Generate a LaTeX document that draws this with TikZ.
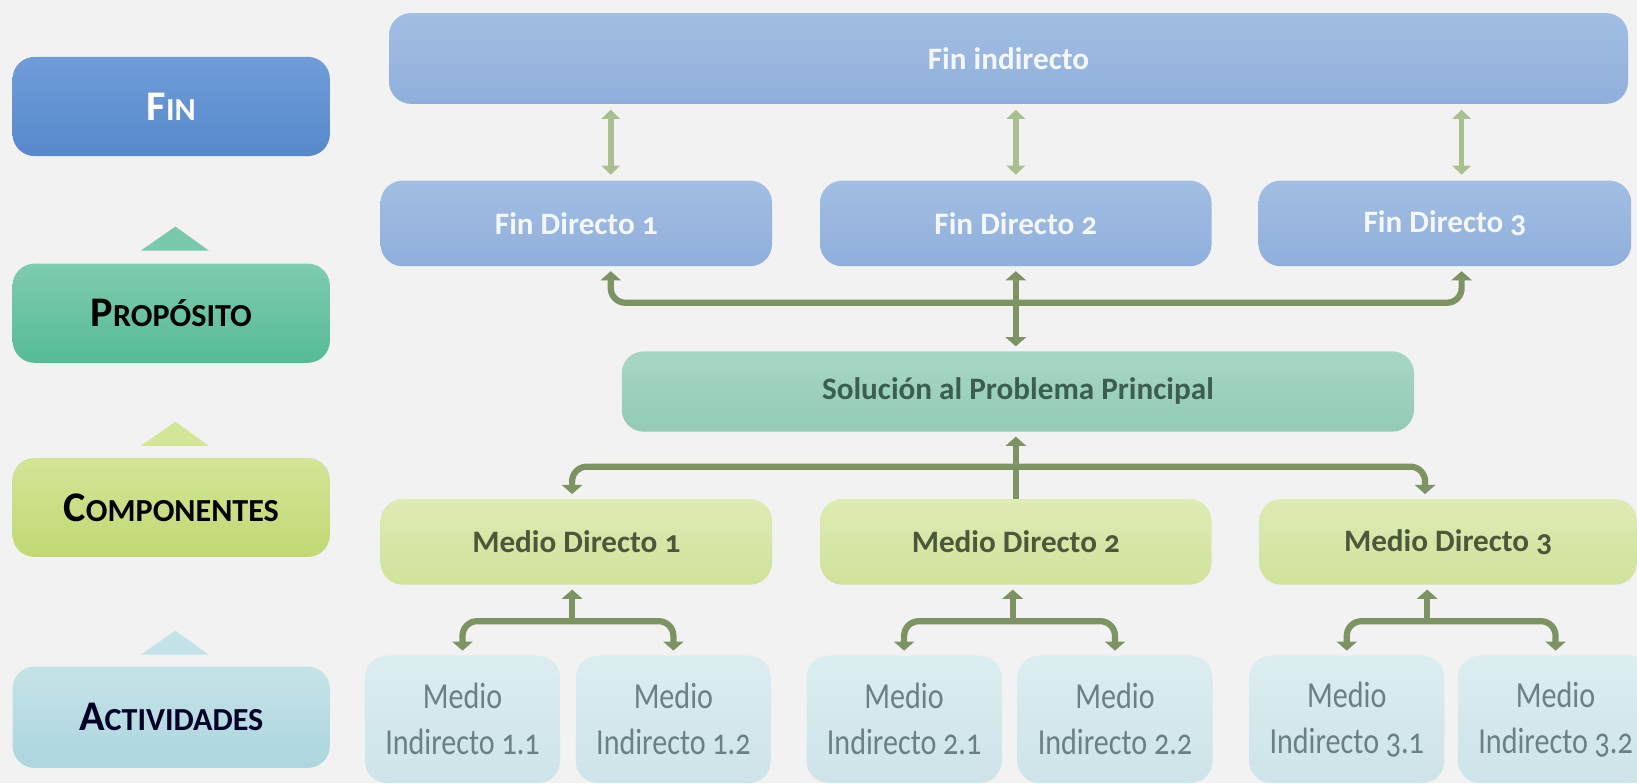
\documentclass[tikz,border=0pt]{standalone}
\usepackage{fontspec}
\setmainfont{Carlito}[Numbers=OldStyle]
\newfontfamily\indfont{Carlito}[FakeStretch=0.82,Numbers=OldStyle]
\usepackage{tikz}
\usetikzlibrary{arrows.meta}
\usetikzlibrary{positioning}

\definecolor{bgcol}{HTML}{F2F2F2}
\definecolor{finTop}{HTML}{6F9DD8}
\definecolor{finBot}{HTML}{5689CC}
\definecolor{fdTop}{HTML}{A2BEE3}
\definecolor{fdBot}{HTML}{8FAFDB}
\definecolor{propTop}{HTML}{7FCCB0}
\definecolor{propBot}{HTML}{55BB96}
\definecolor{solTop}{HTML}{A7D7C4}
\definecolor{solBot}{HTML}{92CBB5}
\definecolor{compTop}{HTML}{D3E597}
\definecolor{compBot}{HTML}{C1D873}
\definecolor{mdTop}{HTML}{DEEBB4}
\definecolor{mdBot}{HTML}{D0E29B}
\definecolor{actTop}{HTML}{C4E3E8}
\definecolor{actBot}{HTML}{ADD6DE}
\definecolor{indTop}{HTML}{DCEDF0}
\definecolor{indBot}{HTML}{CDE4E9}
\definecolor{darkG}{HTML}{7D9462}
\definecolor{lightG}{HTML}{AABF8F}
\definecolor{solTxt}{HTML}{3C5E50}
\definecolor{indTxt}{HTML}{6C7F82}

\newcommand{\capsc}[2]{#1{\fontsize{17.5}{18}\selectfont #2}}

\begin{document}
\begin{tikzpicture}[x=0.02cm,y=-0.02cm,
  box/.style={rounded corners=12pt,inner sep=0pt,align=center},
  lvl/.style={box,minimum width=6.08cm,minimum height=1.9cm,font=\fontsize{23}{24}\selectfont\bfseries},
  main/.style={box,minimum width=7.5cm,minimum height=1.64cm,font=\fontsize{17}{20}\selectfont\bfseries},
  fdbox/.style={main,top color=fdTop,bottom color=fdBot,text=white!88!fdTop},
  mdbox/.style={main,top color=mdTop,bottom color=mdBot,text=darkG!60!black},
  ind/.style={box,minimum width=3.74cm,minimum height=2.44cm,top color=indTop,bottom color=indBot,
    text=indTxt,font=\indfont\fontsize{20}{25}\selectfont},
  dark/.style={draw=darkG,line width=3.4pt,rounded corners=8pt,shorten >=2.5pt,shorten <=2.5pt},
  both/.style={arrows={Triangle[width=11pt,length=5pt]-Triangle[width=11pt,length=5pt]}},
  up/.style={arrows={-Triangle[width=11pt,length=5pt]}},
  light/.style={draw=lightG,line width=3pt,shorten >=3pt,shorten <=3pt,
    arrows={Triangle[width=10pt,length=5pt]-Triangle[width=10pt,length=5pt]}}
]
\fill[bgcol] (0,0) rectangle (1568,750);
\useasboundingbox (0,0) rectangle (1568,750);

% levels
\node[lvl,top color=finTop,bottom color=finBot,text=white] (fin) at (164,102) {\capsc{F}{IN}};
\node[lvl,top color=propTop,bottom color=propBot,text=black] (prop) at (164,300) {\capsc{P}{ROPÓSITO}};
\node[lvl,top color=compTop,bottom color=compBot,text=black] (comp) at (164,486) {\capsc{C}{OMPONENTES}};
\node[lvl,top color=actTop,bottom color=actBot,text=black!85!blue,minimum height=1.94cm] (act) at (164,687) {\capsc{A}{CTIVIDADES}};

\fill[propTop!85!propBot] (135,240) -- (168,217) -- (200,240) -- cycle;
\fill[compTop] (135,427) -- (168,404) -- (200,427) -- cycle;
\fill[actTop] (135,627) -- (168,604) -- (200,627) -- cycle;

% fines
\node[fdbox,minimum width=23.74cm,minimum height=1.74cm] (finind) at (966,56) {Fin indirecto};
\node[fdbox] (fd1) at (552,214) {Fin Directo 1};
\node[fdbox] (fd2) at (973,214) {Fin Directo 2};
\node[fdbox,minimum width=7.14cm] (fd3) at (1384,214) {Fin Directo 3};

% problema
\node[main,minimum width=15.18cm,minimum height=1.54cm,top color=solTop,bottom color=solBot,text=solTxt] (sol) at (975,375) {Solución al Problema Principal};

% medios
\node[mdbox] (md1) at (552,519) {Medio Directo 1};
\node[mdbox] (md2) at (973,519) {Medio Directo 2};
\node[mdbox,minimum width=7.24cm] (md3) at (1387,519) {Medio Directo 3};

\node[ind] (ind11) at (443,689) {Medio\\Indirecto 1.1};
\node[ind] (ind12) at (645,689) {Medio\\Indirecto 1.2};
\node[ind] (ind21) at (866,689) {Medio\\Indirecto 2.1};
\node[ind] (ind22) at (1068,689) {Medio\\Indirecto 2.2};
\node[ind] (ind31) at (1290,689) {Medio\\Indirecto 3.1};
\node[ind] (ind32) at (1490,689) {Medio\\Indirecto 3.2};

% columns of the connectors
\coordinate (c1) at (585,0);
\coordinate (c3) at (1400,0);
\coordinate (m1) at (548,0);
\coordinate (m3) at (1365,0);
\coordinate (bar1) at (973,290);
\coordinate (bar2) at (973,447);
\coordinate (g1) at (548,595);
\coordinate (g2) at (970,595);
\coordinate (g3) at (1367,595);

\draw[light] (finind.south -| c1) -- (fd1.north -| c1);
\draw[light] (finind.south -| fd2) -- (fd2.north);
\draw[light] (finind.south -| c3) -- (fd3.north -| c3);

\draw[dark,both] (fd1.south -| c1) |- (bar1) -| (fd3.south -| c3);
\draw[dark,both] (sol.north -| fd2) -- (fd2.south);

\draw[dark,arrows={Triangle[width=11pt,length=5pt]-},shorten >=0pt] (sol.south -| md2) -- (md2.north);
\draw[dark,both] (md1.north -| m1) |- (bar2) -| (md3.north -| m3);

\draw[dark,up,shorten <=0pt] (g1) -- (md1.south -| g1);
\draw[dark,up,shorten <=0pt] (g2) -- (md2.south -| g2);
\draw[dark,up,shorten <=0pt] (g3) -- (md3.south -| g3);
\draw[dark,both] (ind11) |- (g1) -| (ind12);
\draw[dark,both] (ind21) |- (g2) -| (ind22);
\draw[dark,both] (ind31) |- (g3) -| (ind32);
\end{tikzpicture}
\end{document}
